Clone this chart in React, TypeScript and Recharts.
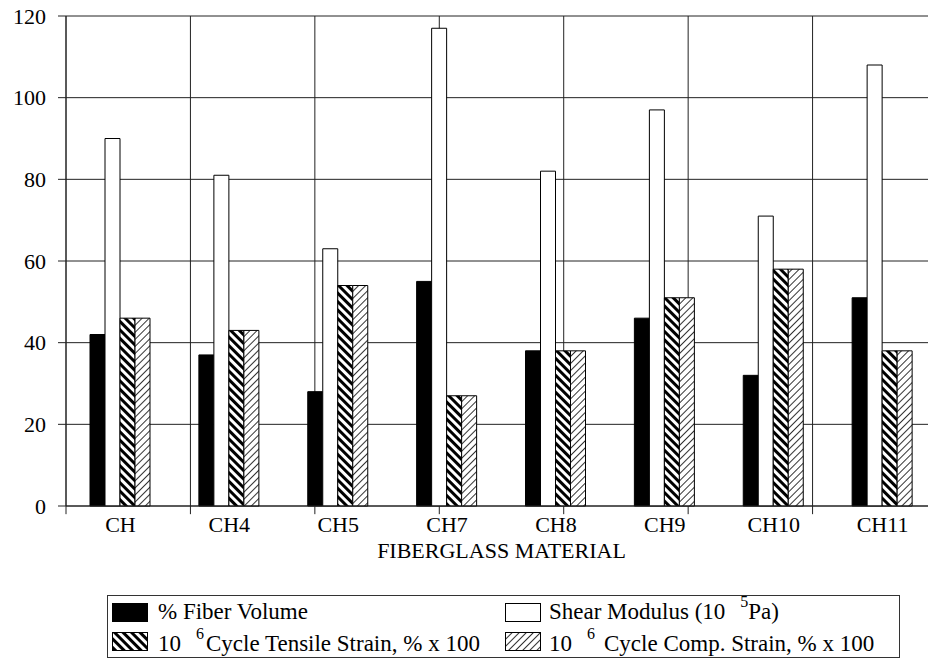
import React from 'react';
import { BarChart, Bar, XAxis, YAxis, CartesianGrid, Legend, ReferenceLine } from 'recharts';

const materials = ['CH', 'CH4', 'CH5', 'CH7', 'CH8', 'CH9', 'CH10', 'CH11'];
const fiberVolume = [42, 37, 28, 55, 38, 46, 32, 51];
const shearModulus = [90, 81, 63, 117, 82, 97, 71, 108];
const tensileStrain = [46, 43, 54, 27, 38, 51, 58, 38];
const compStrain = [46, 43, 54, 27, 38, 51, 58, 38];
const yTicks = [0, 20, 40, 60, 80, 100, 120];
// category boundaries (used for the vertical grid and the x tick marks)
const boundaries = [0, 1, 2, 3, 4, 5, 6, 7, 8];

const data = materials.map((m, i) => ({
  material: m,
  fiber: fiberVolume[i],
  shear: shearModulus[i],
  tensile: tensileStrain[i],
  comp: compStrain[i],
}));

const legendItems = [
  { key: 'fiber', fill: '#000', pre: '% Fiber Volume', sup: '', post: '', gap: 0 },
  { key: 'shear', fill: '#fff', pre: 'Shear Modulus (10', sup: '5', post: 'Pa)', gap: 0 },
  { key: 'tensile', fill: 'tensile', pre: '10', sup: '6', post: 'Cycle Tensile Strain, % x 100', gap: 2 },
  { key: 'comp', fill: 'comp', pre: '10', sup: '6', post: 'Cycle Comp. Strain, % x 100', gap: 9 },
];

const FONT = "'Liberation Serif', 'DejaVu Serif', serif";

const Patterns = ({ prefix }: { prefix: string }) => (
  <defs>
    <pattern id={`${prefix}tensile`} patternUnits="userSpaceOnUse" width="6" height="6" patternTransform="rotate(-45)">
      <rect x="0" y="0" width="6" height="6" fill="#fff" />
      <rect x="0" y="0" width="3" height="6" fill="#000" />
    </pattern>
    <pattern id={`${prefix}comp`} patternUnits="userSpaceOnUse" width="5" height="5" patternTransform="rotate(45)">
      <rect x="0" y="0" width="5" height="5" fill="#fff" />
      <rect x="0" y="0" width="1" height="5" fill="#333" />
    </pattern>
  </defs>
);

const swatchFill = (fill: string) =>
  fill === 'tensile' || fill === 'comp' ? `url(#lg-${fill})` : fill;

const renderLegend = () => (
  <div
    style={{
      position: 'relative',
      width: 793,
      height: 63,
      boxSizing: 'border-box',
      border: '1px solid #333',
      background: '#fff',
      fontFamily: FONT,
      fontSize: 23,
      color: '#000',
    }}
  >
    <svg width="0" height="0" style={{ position: 'absolute' }}>
      <Patterns prefix="lg-" />
    </svg>
    {legendItems.map((item, i) => {
      const left = i % 2 === 0 ? 4 : 397;
      return (
        <React.Fragment key={item.key}>
          <svg width="37" height="20" style={{ position: 'absolute', left, top: i < 2 ? 7 : 36 }}>
            <rect x="0.5" y="0.5" width="35" height="18" fill={swatchFill(item.fill)} stroke="#000" />
          </svg>
          <span
            style={{
              position: 'absolute',
              left: left + (i % 2 === 0 ? 46 : 44),
              top: i < 2 ? 6 : 38,
              lineHeight: '19px',
              whiteSpace: 'nowrap',
            }}
          >
            {item.pre}
            {item.sup && (
              <span
                style={{
                  fontSize: 16,
                  position: 'relative',
                  top: -12,
                  marginLeft: 15,
                  marginRight: item.gap,
                }}
              >
                {item.sup}
              </span>
            )}
            {item.post}
          </span>
        </React.Fragment>
      );
    })}
  </div>
);

const App: React.FC = () => {
  return (
    <div
      style={{
        position: 'absolute',
        left: 0,
        top: 0,
        width: 928,
        height: 664,
        overflow: 'hidden',
        background: '#fff',
        fontFamily: FONT,
      }}
    >
      <BarChart
        width={950}
        height={664}
        data={data}
        margin={{ top: 16, right: 13, left: 0, bottom: 98 }}
        barSize={15}
        barGap={0}
        style={{ fontFamily: FONT }}
      >
        <Patterns prefix="" />
        <CartesianGrid xAxisId="edge" stroke="#222" strokeWidth={1} />
        <XAxis xAxisId="edge" type="number" domain={[0, 8]} ticks={boundaries} hide allowDataOverflow />
        <XAxis
          dataKey="material"
          height={60}
          tickLine={false}
          tickSize={8}
          tickMargin={2}
          axisLine={{ stroke: '#222' }}
          tick={{ fontFamily: FONT, fontSize: 22, fill: '#000' }}
          label={{
            value: 'FIBERGLASS MATERIAL',
            position: 'insideBottom',
            offset: 8,
            style: { fontFamily: FONT, fontSize: 22, fill: '#000' },
          }}
        />
        <YAxis
          domain={[0, 120]}
          ticks={yTicks}
          width={66}
          tickSize={8}
          tickMargin={12}
          axisLine={{ stroke: '#222' }}
          tickLine={{ stroke: '#222' }}
          tick={{ fontFamily: FONT, fontSize: 22, fill: '#000' }}
        />
        {boundaries.map((b) => (
          <ReferenceLine
            key={b}
            xAxisId="edge"
            segment={[{ x: b, y: 0 }, { x: b, y: -2 }]}
            ifOverflow="visible"
            stroke="#222"
          />
        ))}
        <Bar dataKey="fiber" fill="#000" stroke="#000" isAnimationActive={false} />
        <Bar dataKey="shear" fill="#fff" stroke="#000" isAnimationActive={false} />
        <Bar dataKey="tensile" fill="url(#tensile)" stroke="#000" isAnimationActive={false} />
        <Bar dataKey="comp" fill="url(#comp)" stroke="#000" isAnimationActive={false} />
        <Legend
          layout="horizontal"
          verticalAlign="middle"
          align="center"
          content={renderLegend}
          wrapperStyle={{ left: 107, top: 595, width: 793, height: 63 }}
        />
      </BarChart>
    </div>
  );
};

export default App;
